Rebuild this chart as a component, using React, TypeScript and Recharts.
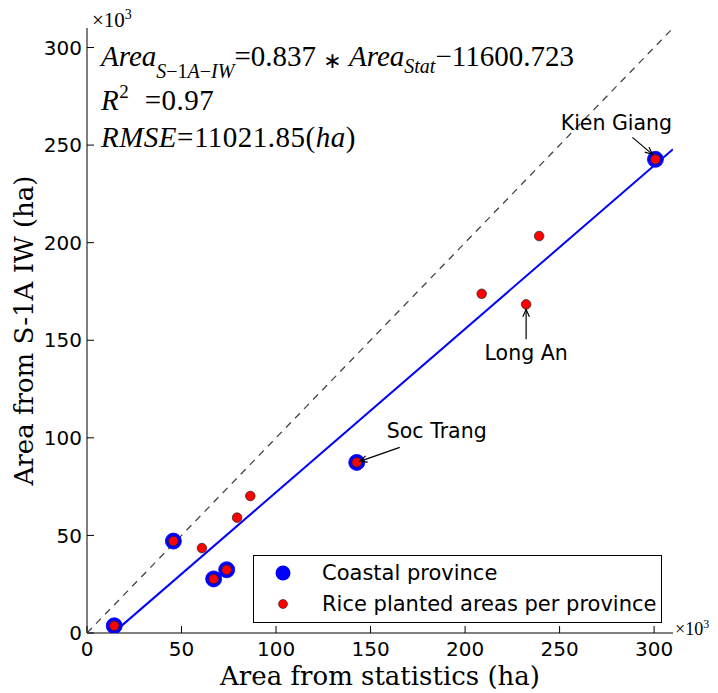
import React from "react";
import { ScatterChart, Scatter, XAxis, YAxis, Legend } from "recharts";

// values in 10^3 ha
const ticks = [0, 50, 100, 150, 200, 250, 300];

// every province (red dots)
const riceStat = [14.4, 45.7, 60.8, 67.0, 73.9, 79.4, 86.4, 142.7, 208.8, 232.3, 239.2, 300.7];
const riceS1A = [3.7, 47.1, 43.5, 27.7, 32.4, 59.1, 70.2, 87.4, 173.8, 168.4, 203.4, 242.7];

// coastal provinces (blue circles)
const coastalStat = [14.4, 45.7, 67.0, 73.9, 142.7, 300.7];
const coastalS1A = [3.7, 47.1, 27.7, 32.4, 87.4, 242.7];

// named provinces
const labelNames = ["Kien Giang", "Long An", "Soc Trang"];
const labelStat = [300.7, 232.3, 142.7];
const labelS1A = [242.7, 168.4, 87.4];

// fitted line end points and 1:1 line
const fitStat = [14.4, 310];
const fitS1A = [0.45, 247.9];
const oneToOne = [0, 310];

const legendLabels = ["Coastal province", "Rice planted areas per province"];

const W = 702;
const H = 685;
const SANS = "'DejaVu Sans', sans-serif";
const SERIF = "'DejaVu Serif', serif";
const MATH = "'Liberation Serif', serif";

const toPoints = (xs: number[], ys: number[]) => xs.map((x, i) => ({ x, y: ys[i] }));

const ricePoints = toPoints(riceStat, riceS1A);
const coastalPoints = toPoints(coastalStat, coastalS1A);
const fitPoints = toPoints(fitStat, fitS1A);
const diagPoints = toPoints(oneToOne, oneToOne);
const labelPoints = labelNames.map((name, i) => ({ name, x: labelStat[i], y: labelS1A[i] }));

// text / arrow placement relative to the point (px)
const annot: Record<string, { tx: number; ty: number; ax: number; ay: number; hx: number; hy: number }> = {
  "Kien Giang": { tx: -39, ty: -29, ax: -23, ay: -22, hx: -3, hy: -5 },
  "Long An": { tx: 0, ty: 56, ax: 0, ay: 35, hx: 0, hy: 5 },
  "Soc Trang": { tx: 80, ty: -24, ax: 43, ay: -15, hx: 3, hy: -1 },
};

function Annotation(props: any) {
  const { cx, cy, payload } = props;
  const a = annot[payload.name];
  if (!a) return <g />;
  const x1 = cx + a.ax;
  const y1 = cy + a.ay;
  const x2 = cx + a.hx;
  const y2 = cy + a.hy;
  const ang = Math.atan2(y2 - y1, x2 - x1);
  const len = 8;
  const sp = 0.42;
  const p1 = `${x2 - len * Math.cos(ang - sp)},${y2 - len * Math.sin(ang - sp)}`;
  const p2 = `${x2 - len * Math.cos(ang + sp)},${y2 - len * Math.sin(ang + sp)}`;
  return (
    <g>
      <line x1={x1} y1={y1} x2={x2} y2={y2} stroke="#000" strokeWidth={1.2} />
      <polyline points={`${p1} ${x2},${y2} ${p2}`} fill="none" stroke="#000" strokeWidth={1.2} />
      <text x={cx + a.tx} y={cy + a.ty} textAnchor="middle" fontFamily={SANS} fontSize={20.5} fill="#000">
        {payload.name}
      </text>
    </g>
  );
}

const BlueDot = (p: any) => <circle cx={p.cx} cy={p.cy} r={8} fill="#0000ff" stroke="#0000ff" strokeWidth={0.8} />;
const RedDot = (p: any) => <circle cx={p.cx} cy={p.cy} r={4.8} fill="#ff0000" stroke="#222" strokeWidth={0.7} />;
const NoDot = () => <g />;

function LegendBox() {
  return (
    <svg width={409} height={68} style={{ display: "block" }}>
      <rect x={0.5} y={0.5} width={408} height={67} fill="#fff" stroke="#000" strokeWidth={1} />
      <circle cx={30} cy={18} r={7.5} fill="#0000ff" />
      <circle cx={30} cy={49} r={4.5} fill="#ff0000" stroke="#222" strokeWidth={0.6} />
      <text x={69} y={25} fontFamily={SANS} fontSize={21} fill="#000">{legendLabels[0]}</text>
      <text x={69} y={56} fontFamily={SANS} fontSize={21} fill="#000">{legendLabels[1]}</text>
    </svg>
  );
}

const tickStyle = { fill: "#000", fontSize: 20, fontFamily: SANS };

export default function App() {
  return (
    <div style={{ position: "relative", width: W, height: H }}>
      <ScatterChart width={W} height={H} margin={{ top: 20, right: 37, bottom: 0, left: 0 }}>
        <XAxis
          xAxisId="b"
          type="number"
          dataKey="x"
          orientation="bottom"
          domain={[0, 310]}
          ticks={ticks}
          interval={0}
          allowDataOverflow
          height={60}
          tickSize={-7}
          tickMargin={16}
          stroke="#000"
          tick={tickStyle}
          label={{
            value: "Area from statistics (ha)",
            position: "insideBottom",
            offset: 8,
            style: { fontFamily: SERIF, fontSize: 26, fill: "#000" },
          }}
        />
        <XAxis
          xAxisId="t"
          type="number"
          dataKey="x"
          orientation="top"
          domain={[0, 310]}
          ticks={ticks}
          interval={0}
          allowDataOverflow
          height={0}
          tickSize={-7}
          stroke="#000"
          tickFormatter={() => ""}
        />
        <YAxis
          yAxisId="l"
          type="number"
          dataKey="y"
          domain={[0, 310]}
          ticks={ticks}
          interval={0}
          allowDataOverflow
          width={79}
          tickSize={-7}
          tickMargin={12}
          stroke="#000"
          tick={tickStyle}
          label={{
            value: "Area from S-1A IW (ha)",
            angle: -90,
            position: "insideLeft",
            offset: 16,
            style: { fontFamily: SERIF, fontSize: 26, fill: "#000", textAnchor: "middle" },
          }}
        />
        <YAxis
          yAxisId="r"
          type="number"
          dataKey="y"
          orientation="right"
          domain={[0, 310]}
          ticks={ticks}
          interval={0}
          allowDataOverflow
          width={0}
          tickSize={-7}
          stroke="#000"
          tickFormatter={() => ""}
        />
        <Scatter
          xAxisId="b"
          yAxisId="l"
          data={diagPoints}
          line={{ stroke: "#444", strokeWidth: 1.3, strokeDasharray: "7 6" }}
          shape={NoDot}
          isAnimationActive={false}
        />
        <Scatter
          xAxisId="b"
          yAxisId="l"
          data={fitPoints}
          line={{ stroke: "#0000ff", strokeWidth: 2 }}
          shape={NoDot}
          isAnimationActive={false}
        />
        <Scatter xAxisId="b" yAxisId="l" data={coastalPoints} shape={BlueDot} isAnimationActive={false} />
        <Scatter xAxisId="b" yAxisId="l" data={ricePoints} shape={RedDot} isAnimationActive={false} />
        <Scatter xAxisId="b" yAxisId="l" data={labelPoints} shape={Annotation} isAnimationActive={false} />
        <Legend
          layout="vertical"
          align="center"
          verticalAlign="middle"
          wrapperStyle={{ left: 245, top: 547, width: 409, height: 68 }}
          content={() => <LegendBox />}
        />
      </ScatterChart>
      <svg width={W} height={H} style={{ position: "absolute", left: 0, top: 0, pointerEvents: "none" }}>
        <text x={84} y={19} fontFamily={MATH} fontSize={21} fill="#000">
          <tspan>×10</tspan>
          <tspan fontSize={14} dy={-8}>3</tspan>
        </text>
        <text x={667} y={627} fontFamily={MATH} fontSize={18} fill="#000">
          <tspan>×10</tspan>
          <tspan fontSize={12} dy={-7}>3</tspan>
        </text>
        <text x={93} y={58} fontFamily={MATH} fontSize={29} fill="#000">
          <tspan fontStyle="italic">Area</tspan>
          <tspan fontSize={20} dy={12} fontStyle="italic">S</tspan>
          <tspan fontSize={20}>−1</tspan>
          <tspan fontSize={20} fontStyle="italic">A</tspan>
          <tspan fontSize={20}>−</tspan>
          <tspan fontSize={20} fontStyle="italic">IW</tspan>
          <tspan dy={-12}>=0.837 </tspan>
          <tspan fontSize={22} fontFamily={SANS} dy={2}>∗</tspan>
          <tspan dy={-2}> </tspan>
          <tspan fontStyle="italic">Area</tspan>
          <tspan fontSize={20} dy={7} fontStyle="italic">Stat</tspan>
          <tspan dy={-7}>−11600.723</tspan>
        </text>
        <text x={93} y={102} fontFamily={MATH} fontSize={29} letterSpacing={0.5} fill="#000">
          <tspan fontStyle="italic">R</tspan>
          <tspan fontSize={19} dy={-12}>2</tspan>
          <tspan dy={12}>{"\u00a0\u00a0=0.97"}</tspan>
        </text>
        <text x={93} y={139} fontFamily={MATH} fontSize={29} letterSpacing={0.5} fill="#000">
          <tspan fontStyle="italic">RMSE</tspan>
          <tspan>=11021.85(</tspan>
          <tspan fontStyle="italic">ha</tspan>
          <tspan>)</tspan>
        </text>
      </svg>
    </div>
  );
}
